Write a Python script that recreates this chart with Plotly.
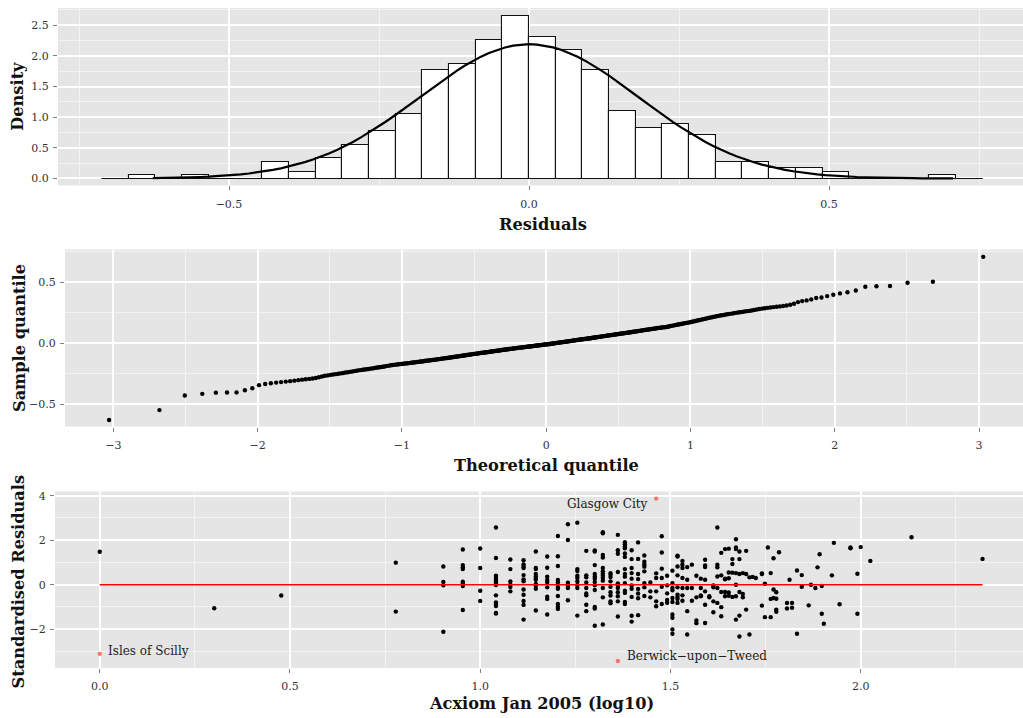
import numpy as np
import plotly.graph_objects as go
from statistics import NormalDist

# Model residuals (log scale), sorted from lowest to highest
residuals_sorted = [
    -0.627, -0.546,
    -0.427, -0.413, -0.403, -0.402, -0.401,
    -0.383, -0.367,
    -0.342, -0.333, -0.326, -0.321, -0.317, -0.313,
    -0.309, -0.305, -0.301, -0.297, -0.294, -0.291, -0.287, -0.283, -0.277, -0.271,
    -0.265, -0.262, -0.258, -0.255, -0.252, -0.249, -0.246, -0.243, -0.239, -0.236,
    -0.233, -0.230, -0.227, -0.224,
    -0.221, -0.219, -0.216, -0.214, -0.212, -0.210, -0.207, -0.205, -0.203, -0.200,
    -0.198, -0.196, -0.193, -0.191, -0.189, -0.186, -0.184, -0.182, -0.179,
    -0.177, -0.176, -0.174, -0.173, -0.171, -0.170, -0.169, -0.167, -0.166, -0.164,
    -0.163, -0.162, -0.160, -0.159, -0.157, -0.156, -0.155, -0.153, -0.152, -0.150,
    -0.149, -0.148, -0.146, -0.145, -0.143, -0.142, -0.141, -0.139, -0.138, -0.136,
    -0.135, -0.134,
    -0.133, -0.131, -0.130, -0.129, -0.127, -0.126, -0.125, -0.123, -0.122, -0.121,
    -0.120, -0.118, -0.117, -0.116, -0.114, -0.113, -0.112, -0.110, -0.109, -0.108,
    -0.107, -0.105, -0.104, -0.103, -0.101, -0.100, -0.099, -0.097, -0.096, -0.095,
    -0.094, -0.092, -0.091, -0.090,
    -0.088, -0.087, -0.086, -0.085, -0.084, -0.083, -0.082, -0.080, -0.079, -0.078,
    -0.077, -0.076, -0.075, -0.074, -0.073, -0.072, -0.071, -0.070, -0.068, -0.067,
    -0.066, -0.065, -0.064, -0.063, -0.062, -0.061, -0.060, -0.059, -0.058, -0.057,
    -0.055, -0.054, -0.053, -0.052, -0.051, -0.050, -0.049, -0.048, -0.047, -0.046,
    -0.045,
    -0.044, -0.043, -0.042, -0.041, -0.040, -0.039, -0.038, -0.037, -0.036, -0.035,
    -0.035, -0.034, -0.033, -0.032, -0.031, -0.030, -0.029, -0.028, -0.027, -0.026,
    -0.026, -0.025, -0.024, -0.023, -0.022, -0.021, -0.020, -0.019, -0.018, -0.017,
    -0.017, -0.016, -0.015, -0.014, -0.013, -0.012, -0.011, -0.010, -0.009, -0.008,
    -0.008, -0.007, -0.006, -0.005, -0.004, -0.003, -0.002, -0.001,
    0.001, 0.002, 0.003, 0.004, 0.005, 0.006, 0.007, 0.008, 0.009, 0.010,
    0.011, 0.012, 0.013, 0.014, 0.015, 0.016, 0.017, 0.018, 0.019, 0.020,
    0.021, 0.023, 0.024, 0.025, 0.026, 0.027, 0.028, 0.029, 0.030, 0.031,
    0.032, 0.033, 0.034, 0.035, 0.036, 0.037, 0.038, 0.039, 0.040, 0.041,
    0.042, 0.043,
    0.045, 0.046, 0.047, 0.048, 0.050, 0.051, 0.052, 0.053, 0.054, 0.055,
    0.057, 0.058, 0.059, 0.060, 0.061, 0.062, 0.064, 0.065, 0.066, 0.067,
    0.068, 0.069, 0.071, 0.072, 0.073, 0.074, 0.075, 0.076, 0.078, 0.079,
    0.080, 0.081, 0.082, 0.083, 0.085, 0.086, 0.087, 0.088,
    0.090, 0.091, 0.092, 0.094, 0.095, 0.097, 0.098, 0.099, 0.101, 0.102,
    0.104, 0.105, 0.106, 0.108, 0.109, 0.111, 0.112, 0.113, 0.115, 0.116,
    0.118, 0.119, 0.120, 0.122, 0.123, 0.125, 0.126, 0.127, 0.129, 0.130,
    0.131, 0.132,
    0.134, 0.136, 0.138, 0.141, 0.143, 0.145, 0.147, 0.149, 0.152, 0.154,
    0.156, 0.158, 0.160, 0.163, 0.165, 0.167, 0.169, 0.171, 0.174, 0.176,
    0.179, 0.182, 0.185, 0.188, 0.191, 0.194, 0.197, 0.200, 0.203, 0.206,
    0.209, 0.212, 0.215, 0.218, 0.221,
    0.224, 0.227, 0.229, 0.232, 0.235, 0.238, 0.241, 0.243, 0.246, 0.249,
    0.252, 0.254, 0.257, 0.260, 0.263, 0.265,
    0.268, 0.272, 0.276, 0.280, 0.284, 0.287, 0.290, 0.293, 0.296, 0.299,
    0.302, 0.305, 0.309,
    0.315, 0.323, 0.337, 0.345, 0.351,
    0.359, 0.370, 0.375, 0.386, 0.397,
    0.408, 0.418, 0.432,
    0.462, 0.466, 0.468,
    0.495, 0.503,
    0.707,
]

# Standardised residuals against the Acxiom Jan 2005 count (one entry per area)
acxiom_count = [
    1, 2, 3, 6, 6,
    8, 8, 8, 8,
    9, 9, 9, 9, 9, 9, 9, 9,
    10, 10, 10, 10,
    11, 11, 11, 11, 11, 11, 11, 11, 11, 11, 11, 11, 11, 11,
    12, 12, 12, 12, 12, 12,
    13, 13, 13, 13, 13, 13, 13, 13, 13, 13, 13, 13,
    14, 14, 14, 14, 14, 14, 14, 14, 14, 14, 14,
    15, 15, 15, 15, 15, 15, 15, 15, 15,
    16, 16, 16, 16, 16, 16, 16, 16, 16, 16, 16,
    17, 17, 17, 17, 17, 17,
    18, 18, 18, 18, 18, 18, 18, 18, 18,
    19, 19, 19, 19, 19, 19, 19, 19, 19,
    20, 20, 20, 20, 20, 20, 20, 20, 20, 20, 20, 20,
    21, 21, 21, 21, 21, 21, 21, 21, 21, 21, 21, 21, 21,
    22, 22, 22, 22, 22, 22, 22, 22, 22,
    23, 23, 23, 23, 23, 23, 23, 23, 23, 23, 23,
    24, 24, 24, 24, 24, 24, 24, 24, 24, 24, 24, 24, 24, 24,
    25, 25, 25, 25, 25, 25, 25, 25, 25, 25,
    26, 26, 26, 26, 26, 26, 26, 26,
    27, 27, 27, 27, 27, 27, 27, 27,
    28, 28, 28,
    29, 29, 29, 29, 29,
    30, 30, 30, 30, 30, 30,
    31, 31, 31, 31, 31,
    32, 32, 32, 32, 32, 32, 32, 32, 32, 32,
    33, 33, 33, 33, 33, 33, 33, 33, 33,
    34, 34, 34, 34, 34, 34, 34,
    35, 35, 35, 35, 35,
    36, 36, 36,
    37, 37, 37, 37,
    38, 38, 38, 38,
    39, 39, 39, 39, 39, 39, 39,
    40, 40,
    41, 41, 41, 41,
    42, 42, 42, 42, 42, 42,
    43, 43, 43, 43, 43,
    44, 44, 44, 44, 44,
    45, 45, 45, 45, 45,
    46, 46, 46, 46,
    47, 47, 47, 47, 47, 47, 47,
    48, 48, 48, 48, 48, 48,
    49, 49, 49,
    50, 50, 50,
    51, 51, 52, 53,
    55, 55, 55, 56, 56, 57,
    58, 58, 58, 59, 59, 59,
    60, 60, 60, 60, 61,
    64, 64, 65, 66, 66, 68, 68, 70, 70,
    73, 74, 76, 77, 78, 79, 79, 80,
    84, 85, 88, 94, 94, 98, 98, 100, 106,
    136, 209,
]

std_residual = [
    1.48, -1.06, -0.49, 0.99, -1.21,
    0.82, 0.12, -0.03, -2.12,
    1.58, 0.88, 0.78, 0.70, 0.13, 0.04, -0.06, -1.14,
    1.63, 0.75, -0.27, -0.73,
    2.57, 1.20, 0.40, 0.30, 0.22, 0.14, 0.05, -0.02, -0.48, -0.80, -0.90, -0.96, -1.27, -1.30,
    1.13, 0.70, 0.15, 0.01, -0.10, -0.30,
    1.10, 0.91, 0.81, 0.75, 0.43, 0.24, 0.15, -0.22, -0.45, -0.73, -0.91, -1.57,
    1.49, 0.75, 0.70, 0.48, 0.37, 0.27, 0.22, 0.03, -0.04, -0.18, -1.16,
    1.27, 0.76, 0.36, 0.21, 0.10, -0.12, -0.54, -0.64, -1.34,
    2.19, 1.28, 0.84, 0.21, 0.10, -0.10, -0.18, -0.51, -0.87, -0.99, -1.09,
    2.72, 2.01, 0.09, -0.04, -0.15, -0.70,
    2.79, 0.70, 0.61, 0.40, 0.30, 0.15, -0.01, -0.15, -1.39,
    1.52, 0.42, 0.33, 0.10, -0.15, -0.40, -0.48, -0.90, -1.19,
    1.54, 1.49, 0.88, 0.48, 0.37, 0.27, 0.12, -0.03, -0.24, -1.00, -1.07, -1.85,
    2.36, 2.31, 1.34, 1.22, 0.75, 0.60, 0.49, 0.40, 0.30, 0.18, -0.15, -0.57, -1.79,
    0.52, 0.45, 0.34, 0.15, -0.10, -0.34, -0.49, -0.75, -0.84,
    2.24, 1.55, 1.39, 0.57, 0.06, -0.04, -0.15, -0.34, -0.52, -0.75, -1.43,
    1.91, 1.82, 1.72, 1.64, 1.40, 1.25, 0.70, 0.48, 0.36, 0.07, -0.27, -0.37, -0.78, -0.87,
    1.55, 1.15, 0.75, 0.52, 0.27, -0.04, -0.18, -0.55, -1.40, -1.66,
    1.90, 1.16, 0.48, 0.25, -0.19, -0.40, -0.61, -1.37,
    1.31, 1.03, 0.91, 0.81, 0.60, 0.07, -0.12, -0.51,
    0.10, -0.30, -0.57,
    0.51, 0.30, -0.30, -0.75, -0.97,
    2.18, 1.45, 0.72, 0.30, -0.09, -0.87,
    0.40, -0.03, -0.39, -0.69, -0.81,
    0.63, 0.07, -0.15, -0.25, -0.60, -0.78, -1.34, -1.49, -2.01, -2.21,
    1.30, 1.27, 0.82, 0.42, -0.12, -0.45, -0.55, -0.64, -0.82,
    1.07, 0.90, 0.75, 0.30, -0.15, -0.48, -0.72,
    0.79, 0.22, -0.15, -1.19, -2.24,
    0.90, -0.15, -0.72,
    0.40, -0.57, -1.61, -1.73,
    0.27, -0.15, -0.48, -0.52,
    1.12, 0.87, 0.79, 0.22, -0.30, -0.90, -1.72,
    -0.52, -0.57,
    -0.03, -0.12, -0.75, -1.24,
    2.57, 0.90, 0.78, 0.37, -0.15, -0.82,
    1.43, 0.42, -0.33, -1.01, -1.42,
    1.60, 0.27, 0.24, -0.33, -0.52,
    1.62, 0.55, 0.29, -0.35, -0.50,
    1.15, 0.93, 0.54, -0.55,
    2.04, 1.67, 1.60, 0.52, 0.00, -0.52, -1.57,
    1.49, 1.15, 0.48, -0.33, -1.39, -2.33,
    0.52, -0.42, -0.57,
    1.52, 0.48, -1.12,
    0.33, -2.24, 0.35, 0.30,
    0.51, 0.48, -0.94, 0.04, -1.46, 1.67,
    0.52, -0.64, -1.46, 1.19, -0.22, -0.60,
    -0.34, -0.63, -1.12, -1.22, 1.46,
    -0.82, -1.07, 0.22, -0.82, -1.04, 0.64, -2.21, 0.43, -0.09,
    -0.93, 0.00, -0.15, 0.78, 1.37, -0.06, -1.31, -1.76,
    0.42, 1.88, -0.88, 1.67, 1.64, 0.49, -1.31, 1.69, 1.07,
    2.13, 1.16,
]

# Named outlying areas
outlier_names = ["Isles of Scilly", "Berwick\u2212upon\u2212Tweed", "Glasgow City"]
outlier_count = [1, 23, 29]
outlier_std_residual = [-3.11, -3.43, 3.87]

# ---------------------------------------------------------------- layout helpers
W, H = 1023, 718
SERIF = "DejaVu Serif"
PANEL_BG = "#E5E5E5"
OUTLIER_COLOUR = "#F8766D"


def fx(px):
    return px / W


def fy(py):
    return 1 - py / H


# ---------------------------------------------------------------- derived series
res = np.sort(np.array(residuals_sorted))
n = res.size
binwidth = (res.max() - res.min()) / 30
k_lo = int(np.floor(res.min() / binwidth)) - 1
k_hi = int(np.ceil(res.max() / binwidth)) + 1
edges = binwidth * np.arange(k_lo, k_hi + 1)
counts, _ = np.histogram(res, bins=edges)
density = counts / (n * binwidth)
centres = (edges[:-1] + edges[1:]) / 2

mu, sd = res.mean(), res.std(ddof=1)
curve_x = np.linspace(res.min(), res.max(), 101)
curve_y = np.exp(-0.5 * ((curve_x - mu) / sd) ** 2) / (sd * np.sqrt(2 * np.pi))

std_normal = NormalDist()
theoretical = [std_normal.inv_cdf((i + 0.5) / n) for i in range(n)]

log_count = np.log10(np.array(acxiom_count, dtype=float))
log_outlier = np.log10(np.array(outlier_count, dtype=float))
line_x = [min(log_count.min(), log_outlier.min()), max(log_count.max(), log_outlier.max())]

fig = go.Figure()

# Histogram of residuals with a fitted normal density
fig.add_trace(go.Bar(
    x=centres, y=density, width=binwidth,
    marker=dict(color="white", line=dict(color="#111111", width=1.1)),
    xaxis="x", yaxis="y", hoverinfo="skip",
))
fig.add_trace(go.Scatter(
    x=[edges[0], edges[-1]], y=[0, 0], mode="lines",
    line=dict(color="#111111", width=1.1), xaxis="x", yaxis="y", hoverinfo="skip",
))
fig.add_trace(go.Scatter(
    x=curve_x, y=curve_y, mode="lines",
    line=dict(color="black", width=2.2), xaxis="x", yaxis="y",
))

# Normal Q-Q plot
fig.add_trace(go.Scatter(
    x=theoretical, y=res, mode="markers",
    marker=dict(color="black", size=4.4, line=dict(width=0)),
    xaxis="x2", yaxis="y2",
))

# Standardised residuals against log10 count
fig.add_trace(go.Scatter(
    x=log_count, y=std_residual, mode="markers",
    marker=dict(color="black", size=4.4, line=dict(width=0)),
    xaxis="x3", yaxis="y3",
))
fig.add_trace(go.Scatter(
    x=line_x, y=[0, 0], mode="lines",
    line=dict(color="red", width=1.4), xaxis="x3", yaxis="y3",
))
fig.add_trace(go.Scatter(
    x=log_outlier, y=outlier_std_residual, mode="markers",
    marker=dict(color=OUTLIER_COLOUR, size=4.4, line=dict(width=0)),
    xaxis="x3", yaxis="y3",
))

tick_font = dict(family=SERIF, size=11, color="#333333")


def axis(domain, rng, dtick, minor_dtick, fmt, standoff=2):
    return dict(
        domain=domain, range=rng, tick0=0, dtick=dtick, tickformat=fmt,
        showgrid=True, gridcolor="white", gridwidth=1.5,
        minor=dict(dtick=minor_dtick, tick0=0, showgrid=True,
                   gridcolor="#F3F3F3", gridwidth=0.8, ticks=""),
        zeroline=False, showline=False,
        ticks="outside", ticklen=4, tickwidth=1, tickcolor="#808080",
        tickfont=tick_font, ticklabelstandoff=standoff, fixedrange=True,
    )


layout = dict(
    width=W, height=H,
    margin=dict(l=0, r=0, t=0, b=0),
    paper_bgcolor="white", plot_bgcolor=PANEL_BG,
    showlegend=False, bargap=0,
    font=dict(family=SERIF, color="#222222"),
    xaxis=axis([fx(58), 1], [-0.785, 0.8233], 0.5, 0.25, ".1f", 4),
    yaxis=axis([fy(184), fy(6)], [-0.114, 2.781], 0.5, 0.25, ".1f"),
    xaxis2=axis([fx(65), 1], [-3.335, 3.305], 1, 0.5, "d", 4),
    yaxis2=axis([fy(425.7), fy(248.3)], [-0.680, 0.766], 0.5, 0.25, ".1f"),
    xaxis3=axis([fx(55), 1], [-0.1175, 2.4265], 0.5, 0.25, ".1f", 4),
    yaxis3=axis([fy(668), fy(491)], [-3.753, 4.184], 2, 1, "d"),
)
layout["xaxis"]["anchor"] = "y"
layout["yaxis"]["anchor"] = "x"
layout["xaxis2"]["anchor"] = "y2"
layout["yaxis2"]["anchor"] = "x2"
layout["xaxis3"]["anchor"] = "y3"
layout["yaxis3"]["anchor"] = "x3"
fig.update_layout(**layout)

title_font = dict(family=SERIF, size=16.2, color="#111111")
titles = [
    ("Density", 18, 95, -90),
    ("Residuals", 543, 223, 0),
    ("Sample quantile", 19, 337, -90),
    ("Theoretical quantile", 546, 465, 0),
    ("Standardised Residuals", 18, 582, -90),
    ("Acxiom Jan 2005 (log10)", 541, 703, 0),
]
for text, px, py, angle in titles:
    fig.add_annotation(
        text="<b>%s</b>" % text, x=fx(px), y=fy(py), xref="paper", yref="paper",
        showarrow=False, textangle=angle, font=title_font,
        xanchor="center", yanchor="middle",
    )

label_font = dict(family=SERIF, size=12, color="#222222")
label_side = ["left", "left", "right"]
label_shift = [(6, 3), (7, 5), (-6, -5)]
for name, xv, yv, side, (dx, dy) in zip(outlier_names, log_outlier, outlier_std_residual,
                                        label_side, label_shift):
    fig.add_annotation(
        text=name, x=xv, y=yv, xref="x3", yref="y3", showarrow=False,
        xanchor=side, yanchor="middle", xshift=dx, yshift=dy, font=label_font,
    )

fig.write_html("out.html", include_plotlyjs=True, config={"displayModeBar": False})
